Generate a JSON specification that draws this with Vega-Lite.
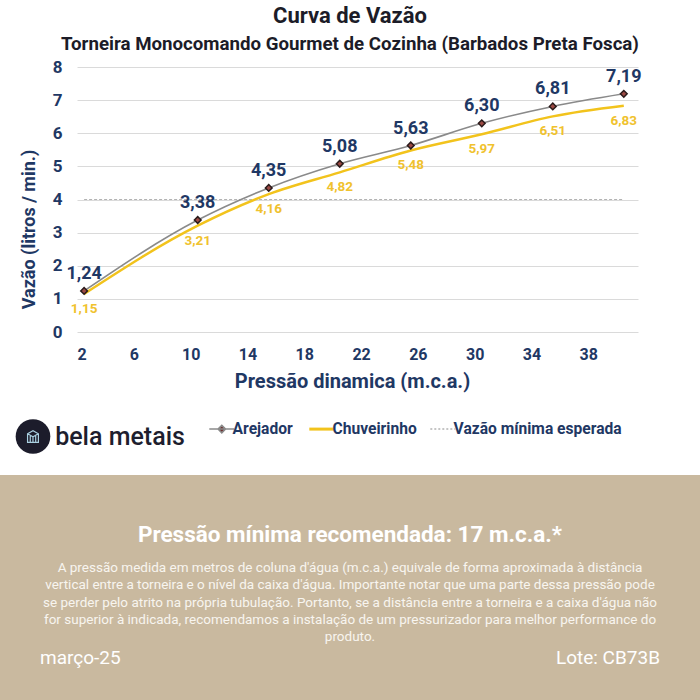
{
  "$schema": "https://vega.github.io/schema/vega-lite/v6.json",
  "padding": {"left": 0, "right": 0, "top": 5, "bottom": 0},
  "background": "white",
  "spacing": 0,
  "config": {
    "view": {"stroke": null},
    "font": "Roboto",
    "locale": {"number": {"decimal": ",", "thousands": ".", "grouping": [3], "currency": ["R$", ""]}}
  },
  "title": {
    "text": "Curva de Vazão",
    "subtitle": "Torneira Monocomando Gourmet de Cozinha (Barbados Preta Fosca)",
    "anchor": "middle",
    "frame": "bounds",
    "font": "Roboto",
    "fontSize": 22,
    "fontWeight": "bold",
    "color": "#1c1c28",
    "subtitleFont": "Roboto",
    "subtitleFontSize": 18.7,
    "subtitleFontWeight": "bold",
    "subtitleColor": "#1c1c28",
    "subtitlePadding": 7,
    "offset": 3.3
  },
  "datasets": {
    "vazao": [
      {"pressao": 2.5, "serie": "Arejador", "vazao": 1.24},
      {"pressao": 10.5, "serie": "Arejador", "vazao": 3.38},
      {"pressao": 15.5, "serie": "Arejador", "vazao": 4.35},
      {"pressao": 20.5, "serie": "Arejador", "vazao": 5.08},
      {"pressao": 25.5, "serie": "Arejador", "vazao": 5.63},
      {"pressao": 30.5, "serie": "Arejador", "vazao": 6.30},
      {"pressao": 35.5, "serie": "Arejador", "vazao": 6.81},
      {"pressao": 40.5, "serie": "Arejador", "vazao": 7.19},
      {"pressao": 2.5, "serie": "Chuveirinho", "vazao": 1.15},
      {"pressao": 10.5, "serie": "Chuveirinho", "vazao": 3.21},
      {"pressao": 15.5, "serie": "Chuveirinho", "vazao": 4.16},
      {"pressao": 20.5, "serie": "Chuveirinho", "vazao": 4.82},
      {"pressao": 25.5, "serie": "Chuveirinho", "vazao": 5.48},
      {"pressao": 30.5, "serie": "Chuveirinho", "vazao": 5.97},
      {"pressao": 35.5, "serie": "Chuveirinho", "vazao": 6.51},
      {"pressao": 40.5, "serie": "Chuveirinho", "vazao": 6.83},
      {"pressao": 2.5, "serie": "Vazão mínima esperada", "vazao": 4},
      {"pressao": 10.5, "serie": "Vazão mínima esperada", "vazao": 4},
      {"pressao": 15.5, "serie": "Vazão mínima esperada", "vazao": 4},
      {"pressao": 20.5, "serie": "Vazão mínima esperada", "vazao": 4},
      {"pressao": 25.5, "serie": "Vazão mínima esperada", "vazao": 4},
      {"pressao": 30.5, "serie": "Vazão mínima esperada", "vazao": 4},
      {"pressao": 35.5, "serie": "Vazão mínima esperada", "vazao": 4},
      {"pressao": 40.5, "serie": "Vazão mínima esperada", "vazao": 4}
    ],
    "logo": [
      {"parte": "icone", "texto": ""},
      {"parte": "nome", "texto": "bela metais"}
    ],
    "info": [
      {"linha": 0, "pos": "centro", "tipo": "titulo", "texto": "Pressão mínima recomendada: 17 m.c.a.*"},
      {"linha": 1, "pos": "centro", "tipo": "corpo", "texto": "A pressão medida em metros de coluna d'água (m.c.a.) equivale de forma aproximada à distância"},
      {"linha": 2, "pos": "centro", "tipo": "corpo", "texto": "vertical entre a torneira e o nível da caixa d'água. Importante notar que uma parte dessa pressão pode"},
      {"linha": 3, "pos": "centro", "tipo": "corpo", "texto": "se perder pelo atrito na própria tubulação. Portanto, se a distância entre a torneira e a caixa d'água não"},
      {"linha": 4, "pos": "centro", "tipo": "corpo", "texto": "for superior à indicada, recomendamos a instalação de um pressurizador para melhor performance do"},
      {"linha": 5, "pos": "centro", "tipo": "corpo", "texto": "produto."},
      {"linha": 6, "pos": "esquerda", "tipo": "rodape", "texto": "março-25"},
      {"linha": 6, "pos": "direita", "tipo": "rodape", "texto": "Lote: CB73B"}
    ]
  },
  "vconcat": [
    {
      "spacing": 0,
      "hconcat": [
        {
          "width": 20,
          "height": 1,
          "data": {"values": [{}]},
          "mark": {"type": "point", "opacity": 0},
          "encoding": {}
        },
        {
          "width": 561,
          "height": 265,
          "data": {"name": "vazao"},
          "encoding": {
            "x": {
              "field": "pressao",
              "type": "quantitative",
              "scale": {"domain": [2, 41.5], "nice": false, "zero": false},
              "axis": {
                "values": [2, 6, 10, 14, 18, 22, 26, 30, 34, 38],
                "title": "Pressão dinamica (m.c.a.)",
                "grid": false,
                "domain": false,
                "ticks": false,
                "tickSize": 0,
                "labelPadding": 14,
                "labelFont": "Roboto",
                "labelFontSize": 16,
                "labelFontWeight": "bold",
                "labelColor": "#1f3864",
                "titleFont": "Roboto",
                "titleFontSize": 20,
                "titleFontWeight": "bold",
                "titleColor": "#1f3864",
                "titlePadding": 9,
                "titleX": 275
              }
            },
            "y": {
              "field": "vazao",
              "type": "quantitative",
              "scale": {"domain": [0, 8], "nice": false},
              "axis": {
                "values": [0, 1, 2, 3, 4, 5, 6, 7, 8],
                "title": "Vazão (litros / min.)",
                "grid": true,
                "gridColor": "#dadada",
                "gridWidth": 1,
                "domain": false,
                "ticks": false,
                "tickSize": 0,
                "labelPadding": 15,
                "labelFont": "Roboto",
                "labelFontSize": 17,
                "labelFontWeight": "bold",
                "labelColor": "#1f3864",
                "titleFont": "Roboto",
                "titleFontSize": 18,
                "titleFontWeight": "bold",
                "titleColor": "#1f3864",
                "titlePadding": 14,
                "titleY": 162
              }
            }
          },
          "layer": [
            {
              "transform": [{"filter": "datum.serie === 'Vazão mínima esperada'"}],
              "mark": {"type": "line", "strokeDash": [3, 2], "strokeWidth": 1},
              "encoding": {
                "color": {
                  "field": "serie",
                  "type": "nominal",
                  "scale": {
                    "domain": ["Arejador", "Chuveirinho", "Vazão mínima esperada"],
                    "range": ["#8a8a8a", "#f2c31c", "#b3b3b3"]
                  },
                  "legend": {
                    "orient": "none",
                    "legendX": 214,
                    "legendY": 354,
                    "padding": 0,
                    "direction": "horizontal",
                    "title": null,
                    "symbolType": "stroke",
                    "symbolSize": 625,
                    "symbolStrokeWidth": 1.5,
                    "labelFont": "Roboto",
                    "labelFontSize": 15.6,
                    "labelFontWeight": "bold",
                    "labelColor": "#1f3864",
                    "labelLimit": 300,
                    "labelOffset": 3,
                    "columnPadding": 10,
                    "encode": {
                      "symbols": {
                        "update": {
                          "shape": {"signal": "datum.value === 'Arejador' ? 'M-1,0H1M0,-0.3L0.3,0L0,0.3L-0.3,0Z' : 'M-1,0H1'"},
                          "strokeWidth": {"signal": "datum.value === 'Chuveirinho' ? 3 : 1.5"},
                          "strokeDash": {"signal": "datum.value === 'Vazão mínima esperada' ? [2, 2] : null"},
                          "fill": {"signal": "datum.value === 'Arejador' ? '#6b2f2f' : 'transparent'"}
                        }
                      }
                    }
                  }
                }
              }
            },
            {
              "transform": [{"filter": "datum.serie === 'Chuveirinho'"}],
              "mark": {"type": "line", "strokeWidth": 2.5, "interpolate": "monotone"},
              "encoding": {"color": {"field": "serie", "type": "nominal"}}
            },
            {
              "transform": [{"filter": "datum.serie === 'Arejador'"}],
              "mark": {"type": "line", "strokeWidth": 1.6, "interpolate": "monotone"},
              "encoding": {"color": {"field": "serie", "type": "nominal"}}
            },
            {
              "transform": [{"filter": "datum.serie === 'Arejador'"}],
              "mark": {"type": "point", "shape": "diamond", "filled": true, "size": 45, "fill": "#9c4a44", "stroke": "#2a1a1a", "strokeWidth": 1.5, "opacity": 1}
            },
            {
              "transform": [{"filter": "datum.serie === 'Arejador'"}],
              "mark": {"type": "text", "dy": -17, "font": "Roboto", "fontSize": 18, "fontWeight": "bold", "color": "#1f3864"},
              "encoding": {"text": {"field": "vazao", "type": "quantitative", "format": ".2f"}}
            },
            {
              "transform": [{"filter": "datum.serie === 'Chuveirinho'"}],
              "mark": {"type": "text", "dy": 15, "font": "Roboto", "fontSize": 13.5, "fontWeight": "bold", "color": "#f0c22e"},
              "encoding": {"text": {"field": "vazao", "type": "quantitative", "format": ".2f"}}
            }
          ]
        }
      ]
    },
    {
      "width": 153,
      "height": 84,
      "data": {"name": "logo"},
      "encoding": {
        "x": {
          "field": "parte",
          "type": "nominal",
          "scale": {"type": "point", "domain": ["icone", "nome"], "padding": 0.379},
          "axis": null
        }
      },
      "layer": [
        {
          "transform": [{"filter": "datum.parte === 'icone'"}],
          "mark": {"type": "point", "shape": "circle", "filled": true, "size": 1200, "color": "#1c1c2b", "opacity": 1, "yOffset": 3.5}
        },
        {
          "transform": [{"filter": "datum.parte === 'icone'"}],
          "mark": {"type": "point", "shape": "M-0.7,-0.35L0,-0.75L0.7,-0.35V0.75H-0.7Z M-0.7,-0.35L0,0.05L0.7,-0.35 M0,0.05V0.75 M-0.35,-0.15V0.75 M0.35,-0.15V0.75", "filled": false, "size": 240, "stroke": "#a9cfe0", "strokeWidth": 1.2, "opacity": 1, "yOffset": 3.5}
        },
        {
          "transform": [{"filter": "datum.parte === 'nome'"}],
          "mark": {"type": "text", "font": "Roboto", "fontSize": 25, "fontWeight": 500, "color": "#1e1e2e", "yOffset": 3.5},
          "encoding": {"text": {"field": "texto"}}
        }
      ]
    },
    {
      "width": 700,
      "height": 225,
      "view": {"fill": "#c9b99f", "stroke": null},
      "data": {"name": "info"},
      "encoding": {
        "x": {
          "field": "pos",
          "type": "nominal",
          "scale": {"type": "point", "domain": ["esquerda", "centro", "direita"], "padding": 0.129},
          "axis": null
        },
        "y": {
          "field": "linha",
          "type": "quantitative",
          "scale": {"domain": [-4.39, 8.65], "reverse": true, "nice": false, "zero": false},
          "axis": null
        },
        "text": {"field": "texto"}
      },
      "layer": [
        {
          "transform": [{"filter": "datum.tipo === 'titulo'"}],
          "mark": {"type": "text", "font": "Roboto", "fontSize": 22.5, "fontWeight": "bold", "color": "#ffffff", "dy": -16}
        },
        {
          "transform": [{"filter": "datum.tipo === 'corpo'"}],
          "mark": {"type": "text", "font": "Roboto", "fontSize": 13.5, "color": "#f8f5ef"}
        },
        {
          "transform": [{"filter": "datum.tipo === 'rodape' && datum.pos === 'esquerda'"}],
          "mark": {"type": "text", "font": "Roboto", "fontSize": 19, "color": "#ffffff", "align": "left", "dy": 4}
        },
        {
          "transform": [{"filter": "datum.tipo === 'rodape' && datum.pos === 'direita'"}],
          "mark": {"type": "text", "font": "Roboto", "fontSize": 19, "color": "#ffffff", "align": "right", "dy": 4}
        }
      ]
    }
  ]
}
